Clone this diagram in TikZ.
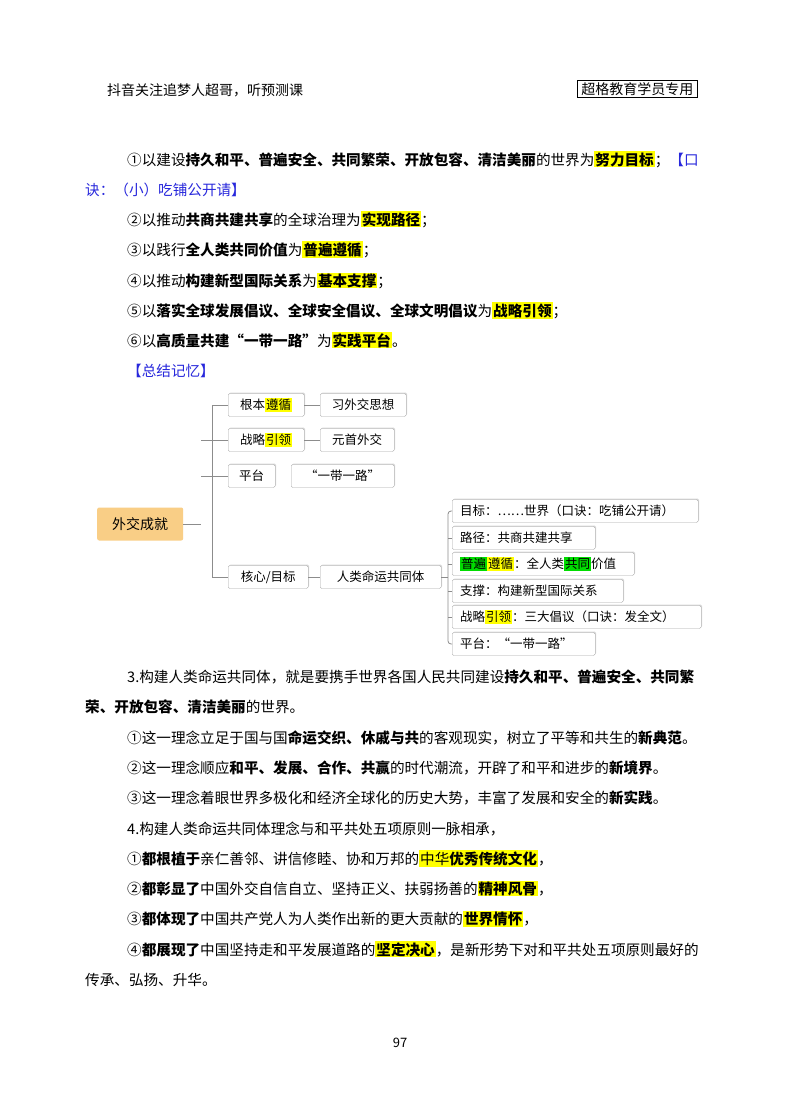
\documentclass[tikz,border=0pt]{standalone}
\usepackage{fontspec}
\setmainfont{Noto Sans CJK SC}
\usetikzlibrary{shadows}
\definecolor{hly}{RGB}{255,255,0}
\definecolor{hlg}{RGB}{0,220,0}
\definecolor{blu}{RGB}{40,40,220}
\definecolor{org}{RGB}{249,206,134}
\newcommand\hl[1]{{\setlength\fboxsep{1pt}\colorbox{hly}{#1}}}
\newcommand\hg[1]{{\setlength\fboxsep{1pt}\colorbox{hlg}{#1}}}
\tikzset{
 tl/.style={anchor=base west,inner sep=0pt,font=\fontsize{14.6}{16}\selectfont},
 bx/.style={draw=black!35,fill=white,rounded corners=1.5pt,anchor=west,inner sep=0pt,minimum height=23,font=\fontsize{12.5}{14}\selectfont,drop shadow={shadow xshift=1,shadow yshift=-1,opacity=.3}},
 rb/.style={bx,inner xsep=8,align=left,text width=#1},
 ln/.style={draw=black!45,line width=0.8}
}
\begin{document}
\begin{tikzpicture}[x=1pt,y=-1pt]
\useasboundingbox (0,0) rectangle (800,1114);
\fill[white] (0,0) rectangle (800,1114);
\node[tl,font=\fontsize{14}{16}\selectfont] (hd) at (107,95) {抖音关注追梦人超哥，听预测课};
\node[draw,line width=0.8,anchor=west,inner xsep=4pt,inner ysep=2pt,font=\fontsize{14}{16}\selectfont] (tag) at (577,89) {超格教育学员专用};
\node[tl] (l1) at (127,165) {①以建设\textbf{持久和平、普遍安全、共同繁荣、开放包容、清洁美丽}的世界为\hl{\textbf{努力目标}}；\textcolor{blu}{【口}};
\node[tl,text=blu] (l1b) at (85,195) {诀：（小）吃铺公开请】};
\node[tl] (l2) at (127,225) {②以推动\textbf{共商共建共享}的全球治理为\hl{\textbf{实现路径}}；};
\node[tl] (l3) at (127,255) {③以践行\textbf{全人类共同价值}为\hl{\textbf{普遍遵循}}；};
\node[tl] (l4) at (127,286) {④以推动\textbf{构建新型国际关系}为\hl{\textbf{基本支撑}}；};
\node[tl] (l5) at (127,316) {⑤以\textbf{落实全球发展倡议、全球安全倡议、全球文明倡议}为\hl{\textbf{战略引领}}；};
\node[tl] (l6) at (127,346) {⑥以\textbf{高质量共建“一带一路”}为\hl{\textbf{实践平台}}。};
\node[tl,text=blu] (l7) at (127,376) {【总结记忆】};
% diagram
\node[fill=org,rounded corners=2pt,anchor=west,minimum width=86,minimum height=33,inner sep=0pt,font=\fontsize{14}{16}\selectfont] (root) at (97,524) {外交成就};
\node[bx,minimum width=76] (a1) at (228,405) {根本\hl{遵循}};
\node[bx,minimum width=86] (a2) at (320,405) {习外交思想};
\node[bx,minimum width=76] (b1) at (228,440) {战略\hl{引领}};
\node[bx,minimum width=74] (b2) at (320,440) {元首外交};
\node[bx,minimum width=47] (c1) at (228,476) {平台};
\node[bx,minimum width=103] (c2) at (291,476) {“一带一路”};
\node[bx,minimum width=80] (d1) at (228,577) {核心/目标};
\node[bx,minimum width=121] (d2) at (320,577) {人类命运共同体};
\node[rb=230] (e1) at (452,511) {目标：……世界（口诀：吃铺公开请）};
\node[rb=127] (e2) at (452,538) {路径：共商共建共享};
\node[rb=166] (e3) at (452,564) {\hg{普遍}\hl{遵循}：全人类\hg{共同}价值};
\node[rb=155] (e4) at (452,591) {支撑：构建新型国际关系};
\node[rb=233] (e5) at (452,617) {战略\hl{引领}：三大倡议（口诀：发全文）};
\node[rb=127] (e6) at (452,644) {平台：“一带一路”};
\coordinate (tr) at (201,524);
\draw[ln] (root.east) -- (tr);
\draw[ln] (a1.west) -- ++(-16,0) coordinate (t1) |- (d1.west);
\draw[ln] (b1.west) -- ++(-27,0);
\draw[ln] (c1.west) -- ++(-27,0);
\draw[ln] (a1.east) -- (a2.west);
\draw[ln] (b1.east) -- (b2.west);
\draw[ln] (d1.east) -- (d2.west);
\draw[ln] (d2.east) -- ++(7,0);
\draw[ln,rounded corners=3pt] (e1.west) -- ++(-4,0) |- (e6.west);
\foreach \n in {e2,e3,e4,e5} \draw[ln] (\n.west) -- ++(-4,0);
% lower text
\node[tl] (m1) at (127,682) {3.构建人类命运共同体，就是要携手世界各国人民共同建设\textbf{持久和平、普遍安全、共同繁}};
\node[tl] (m1b) at (85,712) {\textbf{荣、开放包容、清洁美丽}的世界。};
\node[tl] (m2) at (127,743) {①这一理念立足于国与国\textbf{命运交织、休戚与共}的客观现实，树立了平等和共生的\textbf{新典范}。};
\node[tl] (m3) at (127,773) {②这一理念顺应\textbf{和平、发展、合作、共赢}的时代潮流，开辟了和平和进步的\textbf{新境界}。};
\node[tl] (m4) at (127,803) {③这一理念着眼世界多极化和经济全球化的历史大势，丰富了发展和安全的\textbf{新实践}。};
\node[tl] (m5) at (127,834) {4.构建人类命运共同体理念与和平共处五项原则一脉相承，};
\node[tl] (m6) at (127,864) {①\textbf{都根植于}亲仁善邻、讲信修睦、协和万邦的\hl{中华\textbf{优秀传统文化}}，};
\node[tl] (m7) at (127,894) {②\textbf{都彰显了}中国外交自信自立、坚持正义、扶弱扬善的\hl{\textbf{精神风骨}}，};
\node[tl] (m8) at (127,924) {③\textbf{都体现了}中国共产党人为人类作出新的更大贡献的\hl{\textbf{世界情怀}}，};
\node[tl] (m9) at (127,955) {④\textbf{都展现了}中国坚持走和平发展道路的\hl{\textbf{坚定决心}}，是新形势下对和平共处五项原则最好的};
\node[tl] (m9b) at (85,985) {传承、弘扬、升华。};
\node[anchor=base,inner sep=0pt,font=\fontsize{13}{14}\selectfont] (pg) at (400,1047) {97};
\end{tikzpicture}
\end{document}
